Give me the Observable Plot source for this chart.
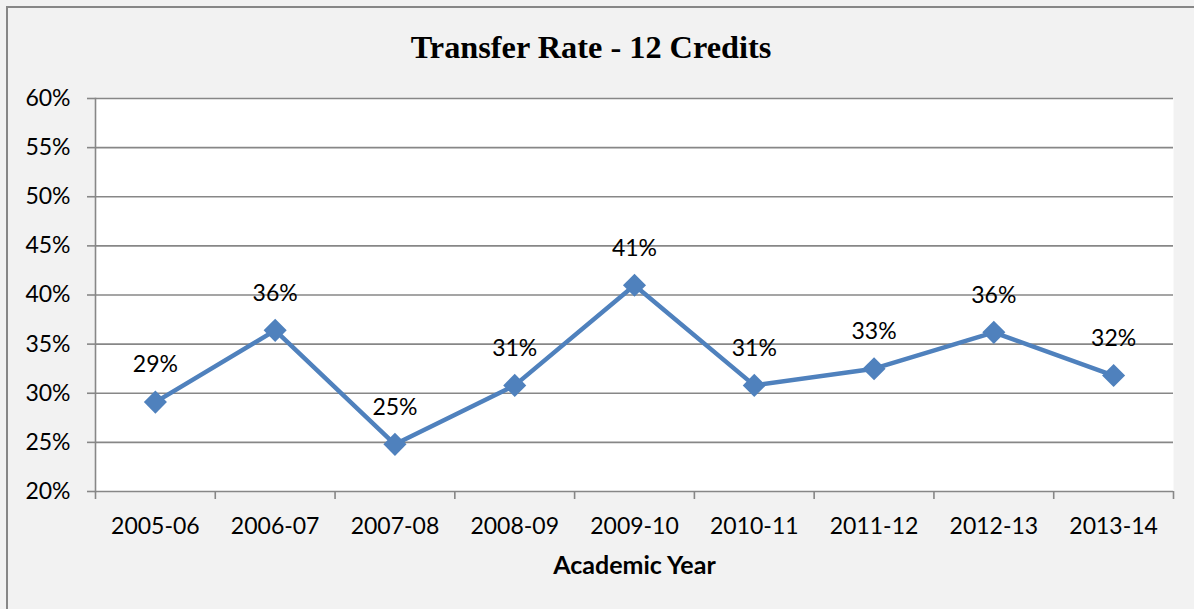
<!DOCTYPE html>
<html>
<head>
<meta charset="utf-8">
<script src="https://cdn.jsdelivr.net/npm/d3@7"></script>
<script src="https://cdn.jsdelivr.net/npm/@observablehq/plot@0.6"></script>
<style>
  html, body { margin: 0; padding: 0; background: #f2f2f2; }
  #chart { position: relative; width: 1194px; height: 609px; overflow: hidden; background: #f2f2f2; }
  #box { position: absolute; left: 6px; top: 6px; width: 1300px; height: 700px; border: 2px solid #878787; box-sizing: border-box; }
  #title { position: absolute; left: 0; top: 0; width: 1182px; height: 80px; line-height: 94px; text-align: center;
           font-family: "Liberation Serif", "Times New Roman", serif; font-weight: bold; font-size: 32.3px; color: #000; }
  #plot { position: absolute; left: 0; top: 80px; }
  #plot svg { background: transparent; }
</style>
</head>
<body>
<div id="chart">
  <div id="box"></div>
  <div id="title">Transfer Rate - 12 Credits</div>
  <div id="plot"></div>
</div>
<script>
// Academic years and their transfer rates (12 credits)
const years = ["2005-06", "2006-07", "2007-08", "2008-09", "2009-10", "2010-11", "2011-12", "2012-13", "2013-14"];
const rates = [0.291, 0.364, 0.248, 0.308, 0.410, 0.308, 0.325, 0.362, 0.318];
const yTicks = [0.20, 0.25, 0.30, 0.35, 0.40, 0.45, 0.50, 0.55, 0.60];

const data = years.map((year, i) => ({i, year, rate: rates[i]}));
const idx = d3.range(years.length);
const bounds = d3.range(years.length + 1).map(k => k - 0.5);

const font = "Lato, 'Open Sans', sans-serif";
const gray = "#878787";
const blue = "#4f81bd";

const chart = Plot.plot({
  width: 1194,
  height: 529,
  marginLeft: 95,
  marginRight: 21,
  marginTop: 18,
  marginBottom: 118,
  style: {fontFamily: font, fontSize: "23px", color: "#000", background: "transparent"},
  x: {type: "linear", domain: [-0.5, years.length - 0.5]},
  y: {domain: [0.2, 0.6]},
  marks: [
    Plot.frame({fill: "white", stroke: null}),
    Plot.gridY(yTicks, {stroke: gray, strokeOpacity: 1, strokeWidth: 1.6}),
    Plot.axisY(yTicks, {
      tickSize: 8, tickPadding: 17, stroke: gray, strokeWidth: 1.6,
      tickFormat: d3.format(".0%"), label: null, fontSize: 23
    }),
    Plot.frame({anchor: "left", stroke: gray, strokeWidth: 1.6}),
    Plot.axisX(bounds, {tickSize: 8, tickFormat: () => "", stroke: gray, strokeWidth: 1.6, label: null}),
    Plot.axisX(idx, {tickSize: 0, tickPadding: 26, tickFormat: i => years[i], label: null, fontSize: 23}),
    Plot.text(["Academic Year"], {frameAnchor: "bottom", dy: 82, fontWeight: "bold", fontSize: 25}),
    Plot.line(data, {x: "i", y: "rate", stroke: blue, strokeWidth: 4.5}),
    Plot.dot(data, {x: "i", y: "rate", symbol: "diamond2", r: 10.4, fill: blue, stroke: null}),
    Plot.text(data, {x: "i", y: "rate", text: d => d3.format(".0%")(d.rate), dy: -37, fontSize: 23})
  ]
});
document.getElementById("plot").append(chart);
</script>
</body>
</html>
